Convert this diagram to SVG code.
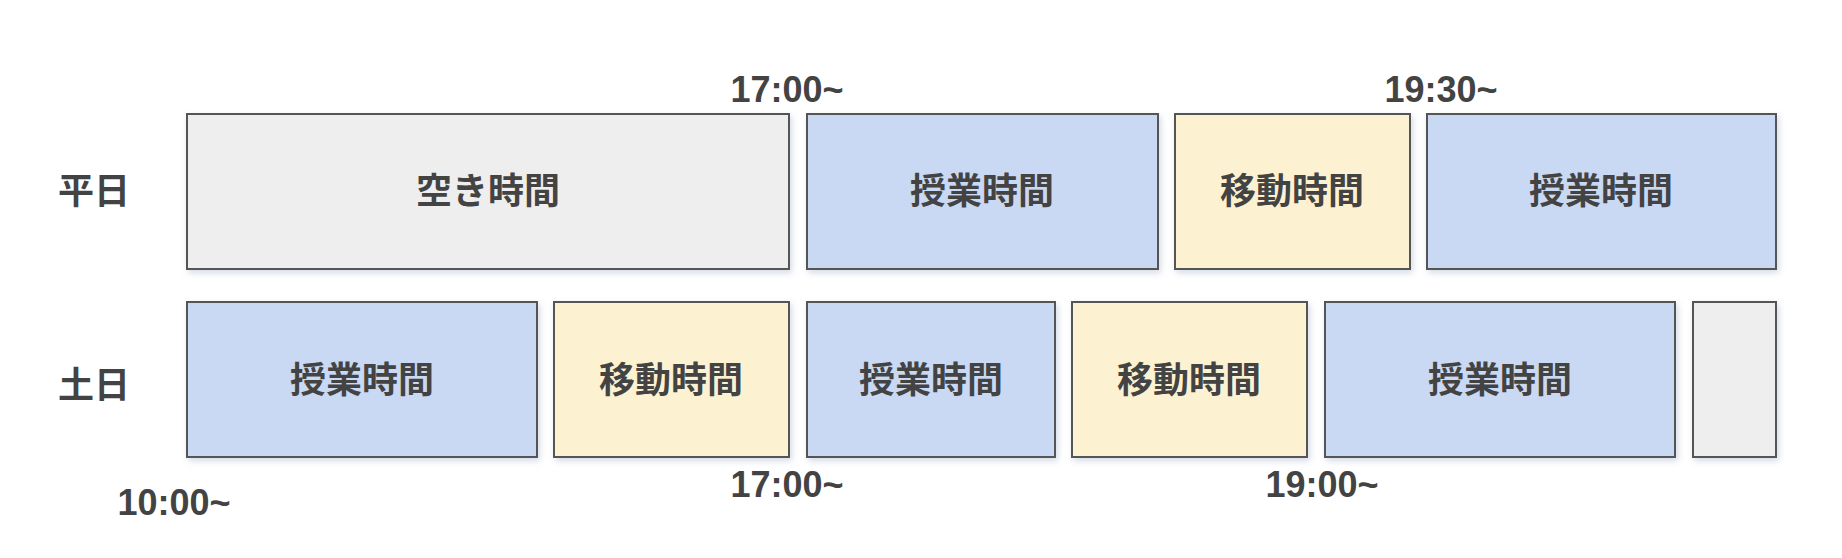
<svg xmlns="http://www.w3.org/2000/svg" width="1842" height="558" viewBox="0 0 1842 558">
<defs>
<filter id="sh" x="-10%" y="-10%" width="120%" height="130%"><feDropShadow dx="2" dy="3" stdDeviation="3" flood-color="#8898b8" flood-opacity="0.35"/></filter>
</defs>
<style>
rect{stroke:#555;stroke-width:2;filter:url(#sh)}
.g{fill:#eeeeee}.b{fill:#cad9f3}.y{fill:#fcf1d0}
text{font-family:"Liberation Sans","Noto Sans CJK JP",sans-serif;font-weight:bold;fill:#434343;text-anchor:middle}
.n{font-size:36px;dominant-baseline:central}
.t{font-size:36px}
</style>
<rect width="1842" height="558" fill="#fff" style="stroke:none;filter:none"/>
<g id="label-heijitsu"><text class="n" x="94" y="191">平日</text></g>
<g id="label-donichi"><text class="n" x="94" y="385">土日</text></g>
<g id="w1"><rect class="g" x="187" y="114" width="602" height="155"/><text class="n" x="488" y="191">空き時間</text></g>
<g id="w2"><rect class="b" x="807" y="114" width="351" height="155"/><text class="n" x="982" y="191">授業時間</text></g>
<g id="w3"><rect class="y" x="1175" y="114" width="235" height="155"/><text class="n" x="1292" y="191">移動時間</text></g>
<g id="w4"><rect class="b" x="1427" y="114" width="349" height="155"/><text class="n" x="1601" y="191">授業時間</text></g>
<g id="s1"><rect class="b" x="187" y="302" width="350" height="155"/><text class="n" x="362" y="380">授業時間</text></g>
<g id="s2"><rect class="y" x="554" y="302" width="235" height="155"/><text class="n" x="671" y="380">移動時間</text></g>
<g id="s3"><rect class="b" x="807" y="302" width="248" height="155"/><text class="n" x="931" y="380">授業時間</text></g>
<g id="s4"><rect class="y" x="1072" y="302" width="235" height="155"/><text class="n" x="1189" y="380">移動時間</text></g>
<g id="s5"><rect class="b" x="1325" y="302" width="350" height="155"/><text class="n" x="1500" y="380">授業時間</text></g>
<g id="s6"><rect class="g" x="1693" y="302" width="83" height="155"/></g>
<g id="times">
<text class="t" x="787" y="102">17:00~</text>
<text class="t" x="1441" y="102">19:30~</text>
<text class="t" x="787" y="497">17:00~</text>
<text class="t" x="1322" y="497">19:00~</text>
<text class="t" x="174" y="515">10:00~</text>
</g>
<g id="connectors"/>
</svg>
